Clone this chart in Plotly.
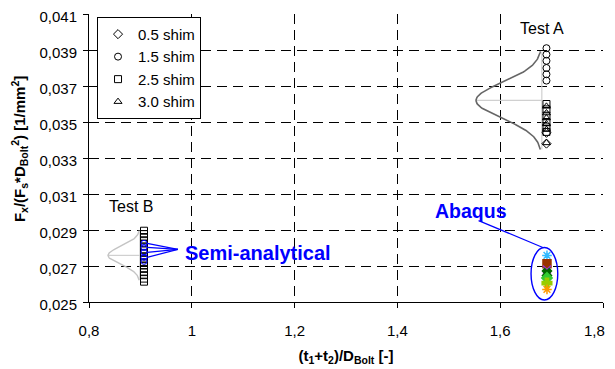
import numpy as np
import plotly.graph_objects as go

# ---------------- data ----------------
x_test_a = 1.69
x_test_b = 0.907

shim05_a = [0.0344, 0.0338]
shim15_a = [0.0391, 0.03875, 0.0384, 0.0380, 0.03765, 0.0373]
shim25_a = [0.0360, 0.0357, 0.03535, 0.0350, 0.0347, 0.03445]
shim30_a = [0.03587, 0.0355, 0.03522, 0.03489, 0.03458, 0.03384]

shim25_b = [0.02896, 0.02877, 0.02861, 0.02843, 0.02825, 0.02809, 0.0279,
            0.02773, 0.02754, 0.02738, 0.0272, 0.02703, 0.02684, 0.02666,
            0.02649, 0.0263, 0.02613]

semi_analytical_y = [0.02826, 0.02803, 0.02776, 0.02748, 0.02726]

abaqus_x = 1.691
abaqus_y = [0.02759, 0.02713, 0.0268, 0.0266, 0.02634, 0.02605, 0.0257]

# fitted normal distributions drawn sideways
dist_a = dict(mean=0.0362, sd=0.00099, base_x=1.681, peak_x=1.553)
dist_b = dict(mean=0.02759, sd=0.0005, base_x=0.899, peak_x=0.837)
dist_span_sd = 2.75

legend_names = ["0.5 shim", "1.5 shim", "2.5 shim", "3.0 shim"]

x_tickvals = [0.8, 1.0, 1.2, 1.4, 1.6, 1.8]
x_ticktext = ["0,8", "1", "1,2", "1,4", "1,6", ""]
x_last_label = "1,8"   # drawn right-aligned at the last tick, as in the reference

# ---------------- styles ----------------
BLUE = "#0000ff"
abaqus_colors = ["#33bbff", "#993300", "#9933cc", "#006600", "#33cc33", "#99cc00", "#ff9900"]
abaqus_symbols = ["asterisk-open", "square", "x-thin-open", "x", "diamond", "cross", "asterisk-open"]

FONT = "Liberation Sans, Arial, sans-serif"

fig = go.Figure()


def dist_curve(d):
    ys = np.linspace(d["mean"] - dist_span_sd * d["sd"], d["mean"] + dist_span_sd * d["sd"], 120)
    xs = d["base_x"] - (d["base_x"] - d["peak_x"]) * np.exp(-0.5 * ((ys - d["mean"]) / d["sd"]) ** 2)
    return xs, ys


for d, col, w in [(dist_a, "#666666", 1.6), (dist_b, "#c4c4c4", 1.4)]:
    xs, ys = dist_curve(d)
    lo = d["mean"] - dist_span_sd * d["sd"]
    hi = d["mean"] + dist_span_sd * d["sd"]
    fig.add_trace(go.Scatter(x=[d["peak_x"], d["base_x"]], y=[d["mean"], d["mean"]], mode="lines",
                             line=dict(color="#d0d0d0", width=1.2), showlegend=False, hoverinfo="skip"))
    fig.add_trace(go.Scatter(x=[d["base_x"], d["base_x"]], y=[lo, hi], mode="lines",
                             line=dict(color="#d0d0d0", width=1.2), showlegend=False, hoverinfo="skip"))
    fig.add_trace(go.Scatter(x=xs, y=ys, mode="lines", line=dict(color=col, width=w),
                             showlegend=False, hoverinfo="skip"))

series = [
    (legend_names[0], "diamond-open", shim05_a, []),
    (legend_names[1], "circle-open", shim15_a, []),
    (legend_names[2], "square-open", shim25_a, shim25_b),
    (legend_names[3], "triangle-up-open", shim30_a, []),
]
for name, sym, ya, yb in series:
    xs = [x_test_a] * len(ya) + [x_test_b] * len(yb)
    fig.add_trace(go.Scatter(x=xs, y=ya + yb, mode="markers", name=name,
                             marker=dict(symbol=sym, size=7, color="black",
                                         line=dict(color="black", width=1))))

fig.add_trace(go.Scatter(x=[x_test_b] * len(semi_analytical_y), y=semi_analytical_y, mode="markers",
                         marker=dict(symbol="circle-open", size=6, color=BLUE, line=dict(color=BLUE, width=1)),
                         showlegend=False))

fig.add_trace(go.Scatter(x=[abaqus_x] * len(abaqus_y), y=abaqus_y, mode="markers",
                         marker=dict(symbol=abaqus_symbols, size=8, color=abaqus_colors,
                                     line=dict(color=abaqus_colors, width=1.5)),
                         showlegend=False))

# ---------------- annotations ----------------
shapes = []
shapes.append(dict(type="circle", xref="x", yref="y", x0=1.660, x1=1.712, y0=0.02511, y1=0.02803,
                   line=dict(color=BLUE, width=1.4)))
shapes.append(dict(type="line", xref="x", yref="y", x0=1.558, y0=0.02952, x1=1.683, y1=0.02803,
                   line=dict(color=BLUE, width=1.2)))
for yv in semi_analytical_y[:4]:
    shapes.append(dict(type="line", xref="x", yref="y", x0=0.973, y0=0.02792, x1=0.913, y1=yv,
                       line=dict(color=BLUE, width=1.2)))

annotations = [
    dict(x=1.681, y=0.04017, xref="x", yref="y", text="Test A", showarrow=False,
         font=dict(size=16, color="black", family=FONT)),
    dict(x=0.882, y=0.0303, xref="x", yref="y", text="Test B", showarrow=False,
         font=dict(size=16, color="black", family=FONT)),
    dict(x=1.543, y=0.03008, xref="x", yref="y", text="<b>Abaqus</b>", showarrow=False,
         font=dict(size=19.5, color=BLUE, family=FONT)),
    dict(x=0.983, y=0.02775, xref="x", yref="y", text="<b>Semi-analytical</b>", showarrow=False,
         xanchor="left", font=dict(size=20, color=BLUE, family=FONT)),
    dict(x=0, y=0.531, xref="paper", yref="paper", xshift=-70, xanchor="center", yanchor="middle",
         textangle=-90, showarrow=False,
         text="<b>F<sub>x</sub>/(F<sub>s</sub>*D<sub>Bolt</sub><sup>2</sup>) [1/mm<sup>2</sup>]</b>",
         font=dict(size=15, color="black", family=FONT)),
    dict(x=x_tickvals[-1], y=0, xref="x", yref="paper", xanchor="right", yanchor="middle",
         xshift=4, yshift=-28, text=x_last_label, showarrow=False,
         font=dict(size=15, color="black", family=FONT)),
]

grid = dict(showgrid=True, gridcolor="black", gridwidth=1, griddash="10px,6px",
            showline=True, linecolor="black", linewidth=1, ticks="outside", ticklen=5,
            tickcolor="black", zeroline=False, mirror=False, automargin=False,
            ticklabeloverflow="allow")

fig.update_layout(
    width=615, height=369,
    margin=dict(l=81, r=20, t=6, b=75),
    plot_bgcolor="white", paper_bgcolor="white",
    separators=",.",
    font=dict(family=FONT, size=15, color="black"),
    shapes=shapes, annotations=annotations,
    legend=dict(x=0.0156, y=0.99, xanchor="left", yanchor="top", bordercolor="black",
                borderwidth=1, bgcolor="white", font=dict(size=15), itemwidth=30,
                tracegroupgap=0),
    xaxis=dict(range=[0.8, 1.8], tickvals=x_tickvals, ticktext=x_ticktext, ticklabelstandoff=10,
               title=dict(text="<b>(t<sub>1</sub>+t<sub>2</sub>)/D<sub>Bolt</sub> [-]</b>",
                          font=dict(size=15), standoff=12), **grid),
    yaxis=dict(range=[0.025, 0.041], tick0=0.025, dtick=0.002, ticklabelstandoff=3,
               ticklabelshift=3, **grid),
)

fig.write_html("out.html")
